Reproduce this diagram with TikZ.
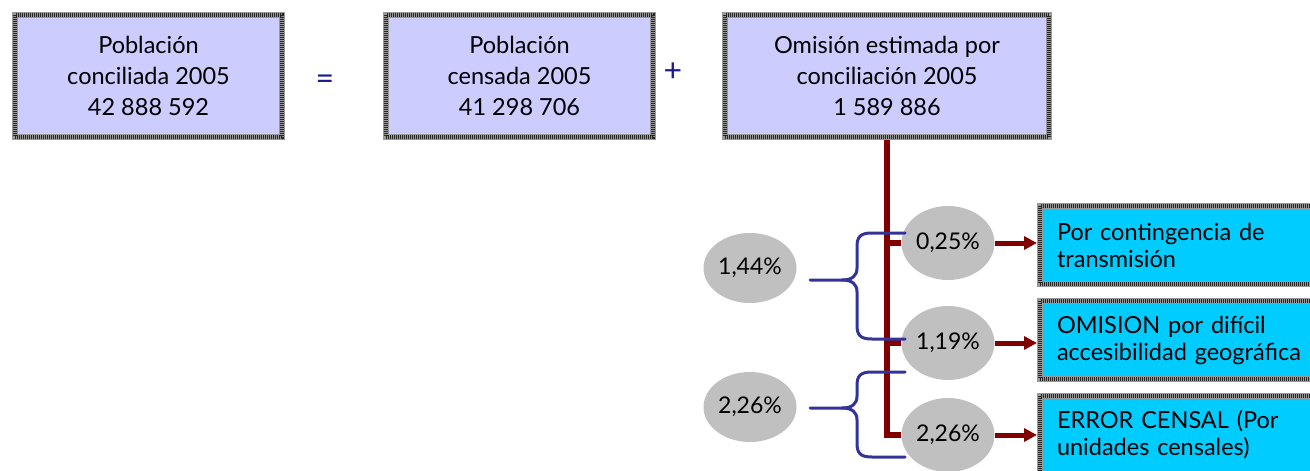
\documentclass[tikz,border=0pt]{standalone}
\usepackage{fontspec}
\setmainfont{Lato}
\usetikzlibrary{arrows.meta}
\usetikzlibrary{shapes.geometric}

\definecolor{lila}{HTML}{CCCCFF}
\definecolor{celeste}{HTML}{00CCFF}
\definecolor{gris}{HTML}{C0C0C0}
\definecolor{vino}{HTML}{800000}
\definecolor{azul}{HTML}{333399}
\definecolor{signo}{HTML}{1A1A8C}

\tikzset{
  marco/.style={rectangle, draw=black!40, line width=6pt, inner sep=0pt,
    postaction={draw=black!85, line width=4pt, dash pattern=on 1pt off 1pt}},
  caja/.style={marco, fill=lila, minimum width=267pt, minimum height=122pt,
    align=center, font=\fontsize{23.5}{31}\selectfont},
  nota/.style={marco, fill=celeste, minimum height=78pt, text width=256pt,
    inner xsep=17pt, align=left, font=\fontsize{23.5}{27}\selectfont},
  pct/.style={ellipse, fill=gris, minimum width=93pt, minimum height=74pt,
    inner sep=0pt, font=\fontsize{23}{25}\selectfont},
  signo/.style={text=signo, font=\fontsize{32}{32}\selectfont},
  rama/.style={vino, line width=6pt},
  flecha/.style={vino, line width=5pt, -{Triangle[length=13pt,width=13pt]}},
  llave/.style={azul, line width=3pt, line cap=round},
}

% llave: brazo de arriba, punta, brazo de abajo
\newcommand{\llave}[3]{%
  \draw[llave] (905,#1) -- (872,#1) .. controls (860,#1) and (857,#1+4) .. (857,#1+14)
    -- (857,#2-12) .. controls (857,#2-4) and (852,#2) .. (842,#2) -- (810,#2);
  \draw[llave] (842,#2) .. controls (852,#2) and (857,#2+4) .. (857,#2+12)
    -- (857,#3-14) .. controls (857,#3-4) and (860,#3) .. (872,#3) -- (905,#3);
}

\begin{document}
\begin{tikzpicture}[x=1pt,y=-1pt]
\useasboundingbox (0,0) rectangle (1310,471);

% fila de arriba
\node[caja] (pob) at (148.5,76) {Población\\conciliada 2005\\42 888 592};
\node[signo] (igual) at (325,82) {=};
\node[signo] (mas) at (673,72) {+};
\node[caja] (cen) at (519.5,76) {Población\\censada 2005\\41 298 706};
\node[caja, minimum width=324pt] (omi) at (887,76) {Omisión estimada por\\conciliación 2005\\1 589 886};

% porcentajes
\node[pct] (r1) at (948,243) {0,25\%};
\node[pct] (r2) at (948,343) {1,19\%};
\node[pct] (r3) at (948,435) {2,26\%};
\node[pct, minimum height=70pt] (l1) at (750,268) {1,44\%};
\node[pct, minimum height=70pt] (l2) at (750,407) {2,26\%};

% cajas de la derecha
\node[nota] (b1) at (1185,245) {Por contingencia de\\transmisión};
\node[nota] (b2) at (1185,340) {OMISION por difícil\\accesibilidad geográfica};
\node[nota] (b3) at (1185,435) {ERROR CENSAL (Por\\unidades censales)};

% ramas
\draw[rama] (omi.south) |- (r3.west);
\draw[rama] (omi.south |- r1.west) -- (r1.west);
\draw[rama] (omi.south |- r2.west) -- (r2.west);

\draw[flecha] (r1.east) -- (r1.east -| b1.west);
\draw[flecha] (r2.east) -- (r2.east -| b2.west);
\draw[flecha] (r3.east) -- (r3.east -| b3.west);

\llave{233}{280}{339}
\llave{372}{408}{457}
\end{tikzpicture}
\end{document}
